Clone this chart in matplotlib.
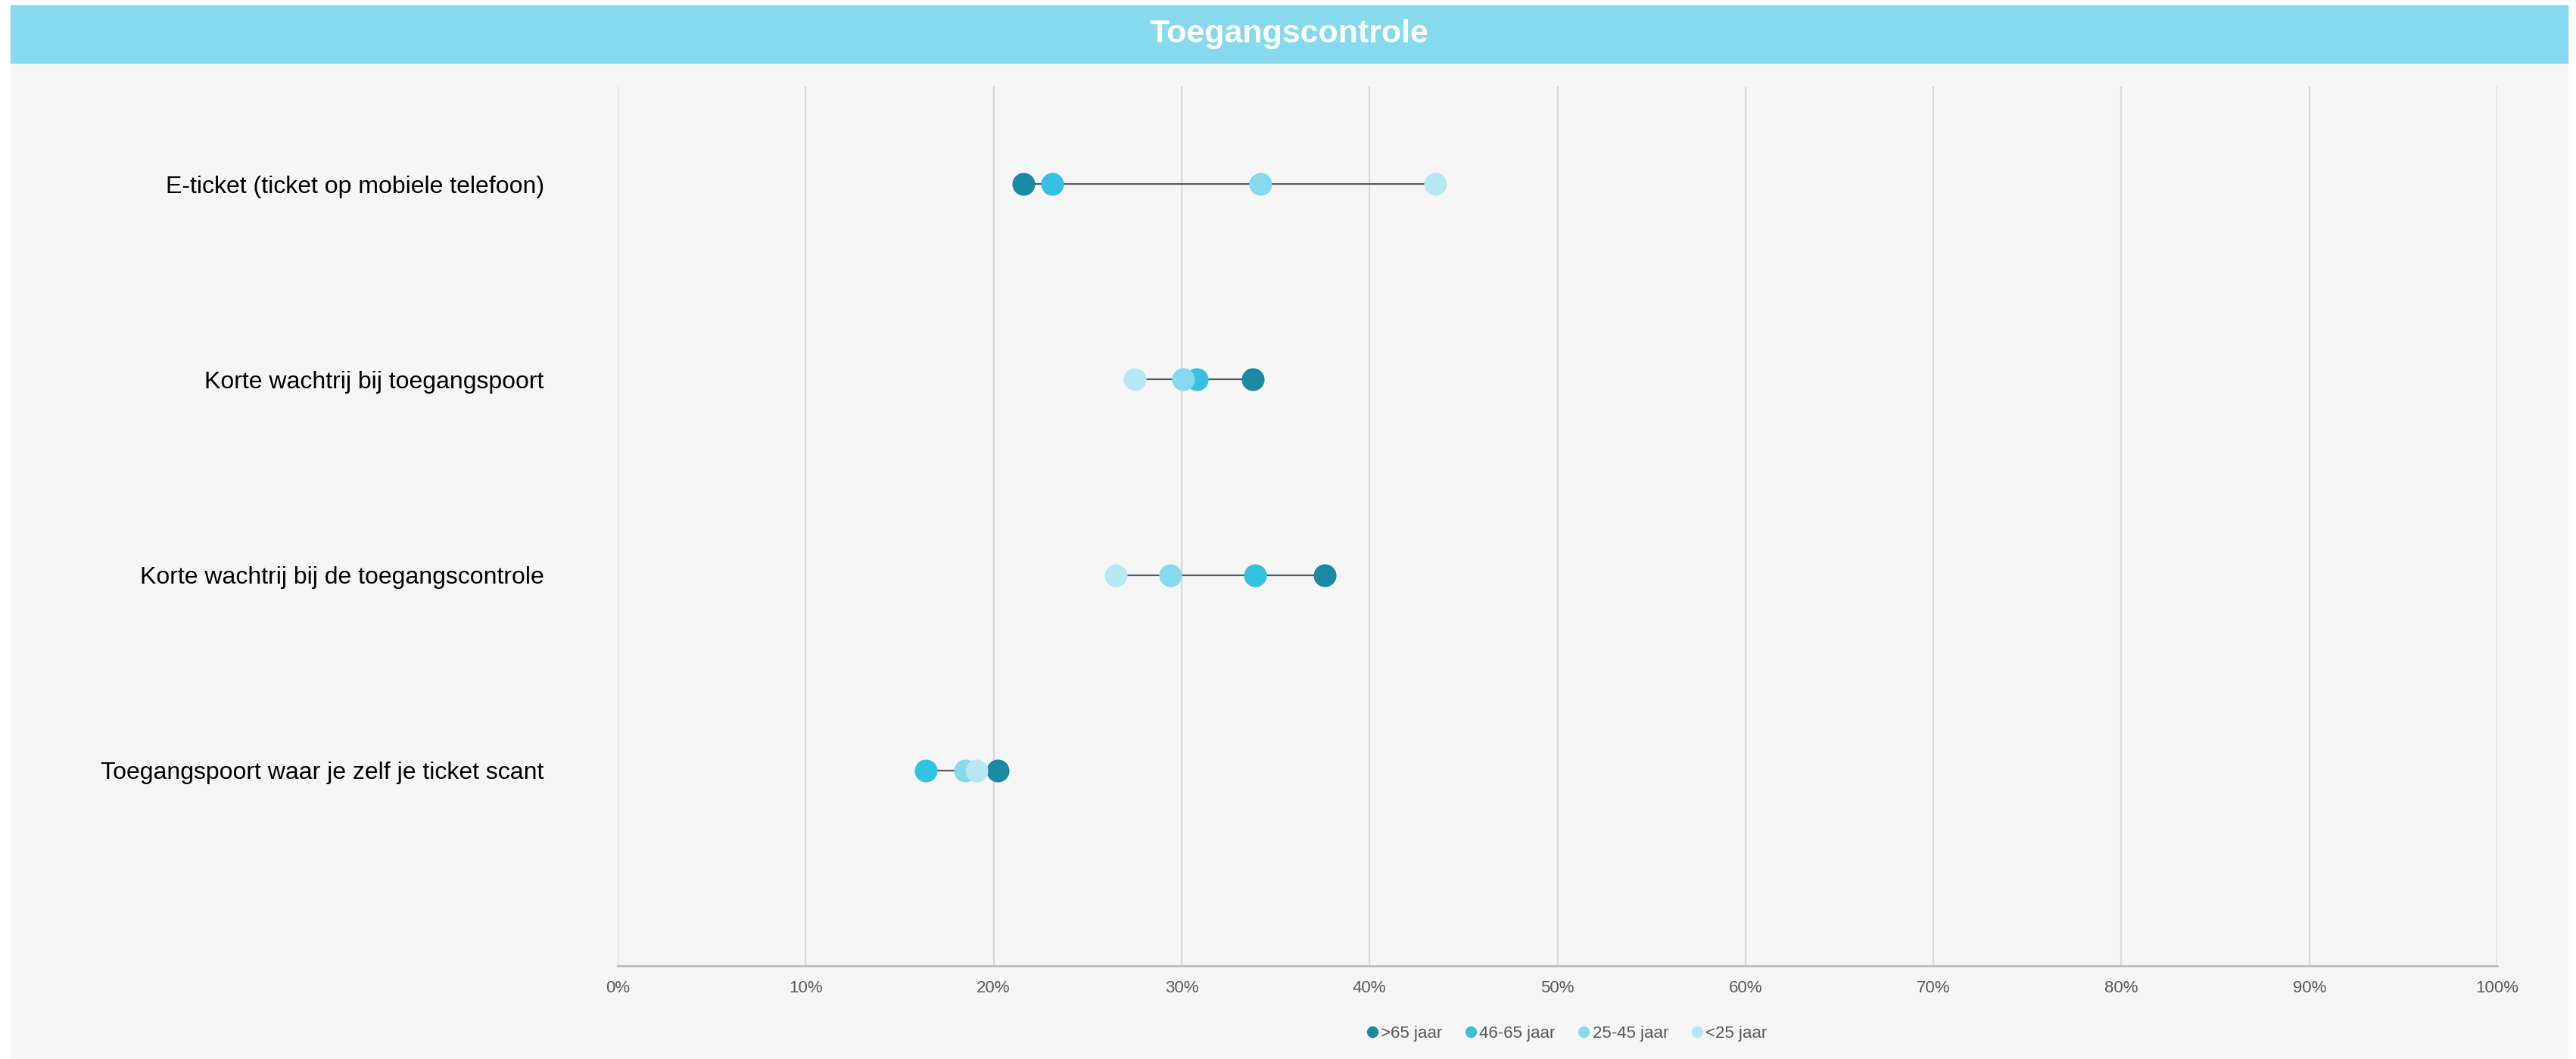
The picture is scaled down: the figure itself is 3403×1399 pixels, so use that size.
import numpy as np
import matplotlib
matplotlib.use("Agg")
import matplotlib.pyplot as plt
from matplotlib.patches import Rectangle
from matplotlib.lines import Line2D

plt.rcParams['font.family'] = ['Liberation Sans', 'DejaVu Sans']

title = "Toegangscontrole"
categories = ["E-ticket (ticket op mobiele telefoon)",
              "Korte wachtrij bij toegangspoort",
              "Korte wachtrij bij de toegangscontrole",
              "Toegangspoort waar je zelf je ticket scant"]
groups = [">65 jaar", "46-65 jaar", "25-45 jaar", "<25 jaar"]
colors = ["#1a8aa3", "#35c1e2", "#87d9ed", "#b8e7f4"]

# percentages per age group, same order as categories
v_65plus = [21.6, 33.8, 37.6, 20.2]
v_46_65 = [23.1, 30.8, 33.9, 16.4]
v_25_45 = [34.2, 30.1, 29.4, 18.5]
v_lt25 = [43.5, 27.5, 26.5, 19.1]
values = np.array([v_65plus, v_46_65, v_25_45, v_lt25]) / 100.0

W, H = 3403, 1399
fig = plt.figure(figsize=(W / 100, H / 100), dpi=100)
fig.patch.set_facecolor("white")

# panel background + title band
fig.add_artist(Rectangle((14 / W, 0), (3392 - 14) / W, 1 - 83 / H,
                         transform=fig.transFigure, color="#f6f6f6", zorder=-5))
fig.add_artist(Rectangle((14 / W, 1 - 83 / H), (3392 - 14) / W, 76 / H,
                         transform=fig.transFigure, color="#87d9ed", zorder=-5))
fig.text((14 + 3392) / 2 / W, 1 - 45 / H, title, color="white", fontsize=31,
         fontweight="bold", ha="center", va="center")

ax = fig.add_axes([816 / W, 1 - 1276 / H, (3299 - 816) / W, (1276 - 114) / H])
ax.set_facecolor("none")

ypos = np.arange(len(categories))[::-1]
for i, y in enumerate(ypos):
    ax.plot([values[:, i].min(), values[:, i].max()], [y, y],
            color="#595959", lw=1.6, zorder=2)
for g in range(len(groups)):
    ax.scatter(values[g], ypos, s=470, color=colors[g], zorder=3 + g,
               linewidths=0)

ax.set_xlim(0, 1)
ax.set_ylim(-1, 3.5)
ax.set_xticks(np.arange(0, 1.01, 0.1))
ax.set_xticklabels([f"{int(round(t * 100))}%" for t in np.arange(0, 1.01, 0.1)],
                   fontsize=16, color="#595959")
ax.tick_params(axis="x", length=0, pad=14)
ax.set_yticks(ypos)
ax.set_yticklabels(categories, fontsize=23, color="black")
ax.tick_params(axis="y", length=0, pad=70)
ax.grid(axis="x", color="#d9d9d9", lw=1.6)
ax.set_axisbelow(True)
for s in ["top", "right", "left"]:
    ax.spines[s].set_visible(False)
ax.spines["bottom"].set_color("#bfbfbf")
ax.spines["bottom"].set_linewidth(2)

handles = [Line2D([], [], marker="o", ls="", color=c, markersize=10) for c in colors]
fig.legend(handles, groups, loc="center", bbox_to_anchor=(2068 / W, 1 - 1365 / H),
           ncol=4, frameon=False, fontsize=16, labelcolor="#595959",
           handletextpad=0.0, columnspacing=1.2, handlelength=1.0)

fig.savefig("out.png", dpi=100)
